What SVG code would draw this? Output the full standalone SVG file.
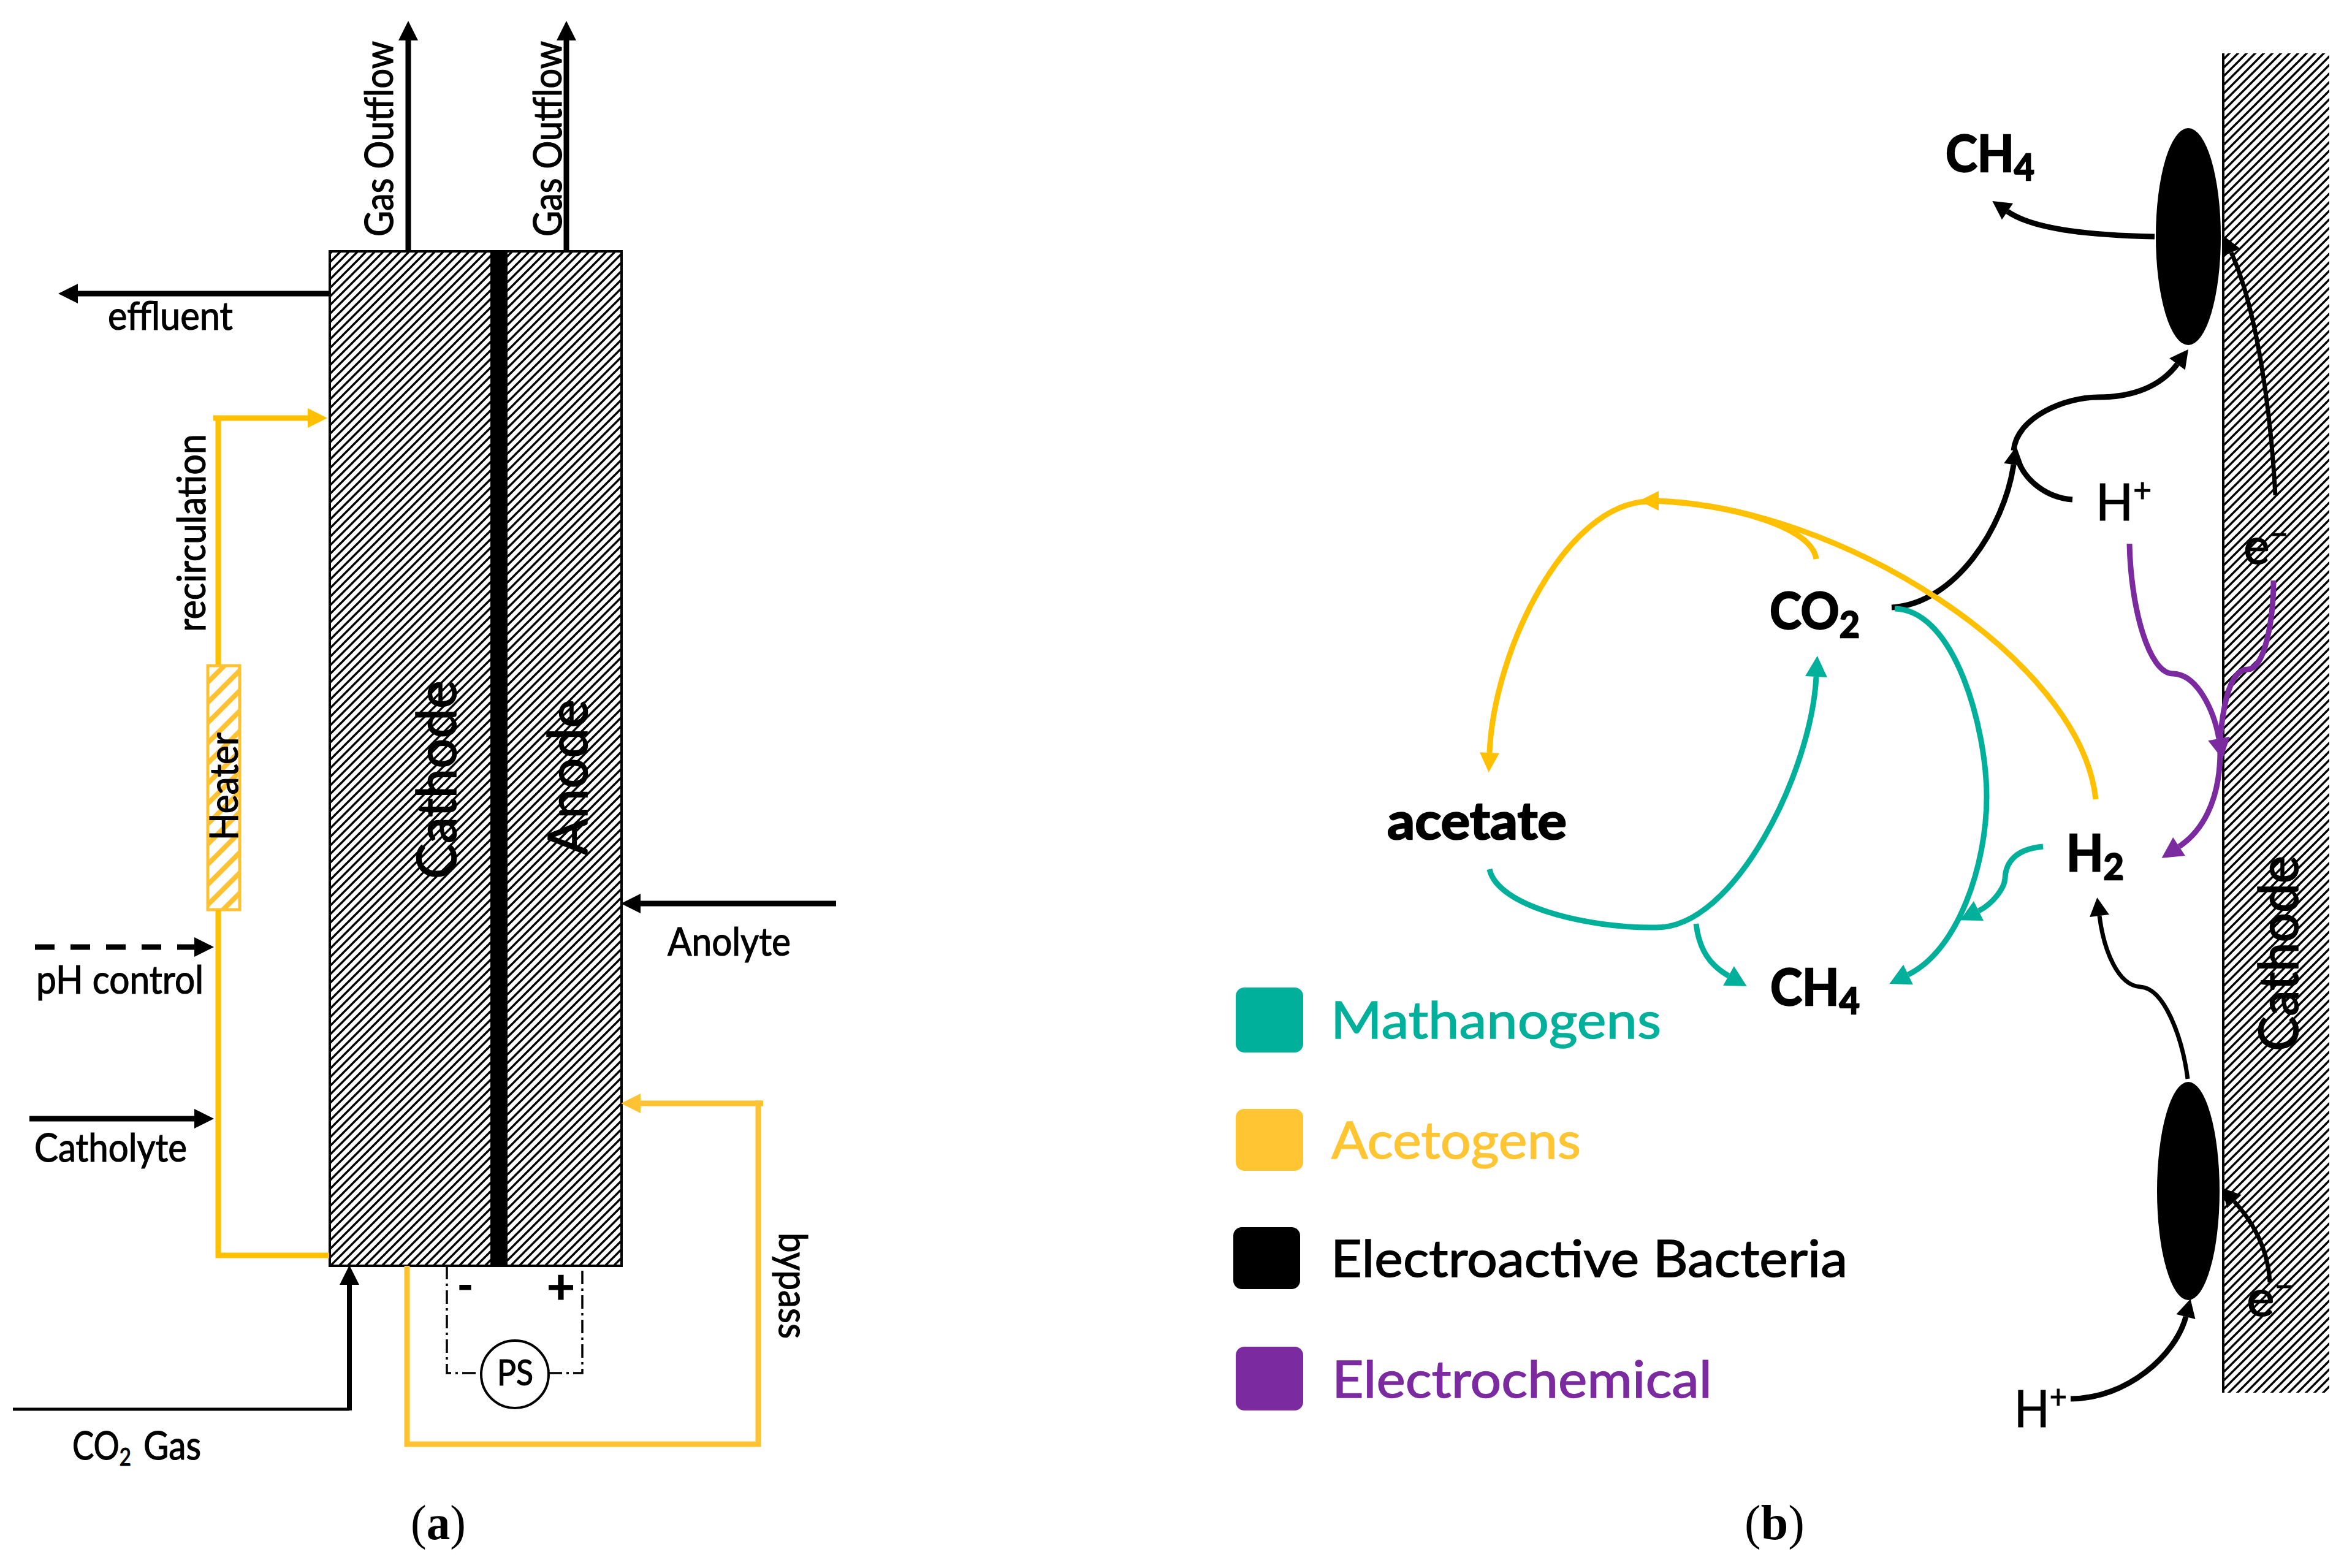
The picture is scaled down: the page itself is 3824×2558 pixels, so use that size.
<svg xmlns="http://www.w3.org/2000/svg" width="3824" height="2558" viewBox="0 0 3824 2558">
<style>
text{font-family:Lato,"Liberation Sans",sans-serif;fill:#000;stroke:#000;stroke-width:1.2}
.t{font-size:64px}
.b{font-weight:700}
.big{font-size:89px;stroke-width:1.6}
.leg{font-size:84px;stroke-width:1.4}
.chem{font-size:82px;font-weight:700;stroke-width:2.4}
.sub{font-size:60px}
.sup{font-size:54px}
text.cap{font-family:"Liberation Serif",serif;font-size:80px;stroke:none}
.line{fill:none;stroke-width:9;stroke-linejoin:miter}
.k{stroke:#000}.y{stroke:#FFC000}.yl{stroke:#FFC233}.g{stroke:#00B09B}.p{stroke:#7B2AA0}
.ka{marker-end:url(#mk)}.ya{marker-end:url(#my)}.yla{marker-end:url(#myl)}.ga{marker-end:url(#mg)}.pa{marker-end:url(#mp)}.ks{marker-end:url(#mks)}
.swatch{stroke:none}
</style>
<defs>
<pattern id="hatch" width="14" height="14" patternUnits="userSpaceOnUse">
<rect width="14" height="14" fill="#fff"/>
<path d="M-3.5 3.5L3.5-3.5M0 14L14 0M10.5 17.5L17.5 10.5" stroke="#000" stroke-width="3.4"/>
</pattern>
<pattern id="heat" width="33" height="33" patternUnits="userSpaceOnUse">
<rect width="33" height="33" fill="#fff"/>
<path d="M-8 8L8-8M0 33L33 0M25 41L41 25" stroke="#FFC233" stroke-width="8"/>
</pattern>
<marker id="mk" markerUnits="userSpaceOnUse" markerWidth="36" markerHeight="36" refX="0" refY="18" orient="auto" overflow="visible"><path d="M0 2L32 18L0 34Z" fill="#000"/></marker>
<marker id="mks" markerUnits="userSpaceOnUse" markerWidth="36" markerHeight="36" refX="0" refY="16" orient="auto" overflow="visible"><path d="M0 0L30 16L0 32Z" fill="#000"/></marker>
<marker id="my" markerUnits="userSpaceOnUse" markerWidth="36" markerHeight="36" refX="0" refY="18" orient="auto" overflow="visible"><path d="M0 2L32 18L0 34Z" fill="#FFC000"/></marker>
<marker id="myl" markerUnits="userSpaceOnUse" markerWidth="36" markerHeight="36" refX="0" refY="18" orient="auto" overflow="visible"><path d="M0 2L32 18L0 34Z" fill="#FFC233"/></marker>
<marker id="mg" markerUnits="userSpaceOnUse" markerWidth="36" markerHeight="36" refX="0" refY="18" orient="auto" overflow="visible"><path d="M0 0L34 18L0 36Z" fill="#00B09B"/></marker>
<marker id="mp" markerUnits="userSpaceOnUse" markerWidth="36" markerHeight="36" refX="0" refY="18" orient="auto" overflow="visible"><path d="M0 0L34 18L0 36Z" fill="#7B2AA0"/></marker>
</defs>
<rect width="3824" height="2558" fill="#fff"/>

<g id="cell-a">
<rect x="538" y="410" width="476" height="1655" fill="url(#hatch)" stroke="#000" stroke-width="4"/>
<rect x="800" y="410" width="28" height="1655" fill="#000"/>
<text class="big" transform="translate(744 1434) rotate(-90)" textLength="324" lengthAdjust="spacingAndGlyphs">Cathode</text>
<text class="big" transform="translate(958 1395) rotate(-90)" textLength="254" lengthAdjust="spacingAndGlyphs">Anode</text>
</g>
<g id="heater">
<rect x="339" y="1086" width="52" height="398" fill="url(#heat)" stroke="#FFC233" stroke-width="5"/>
<text class="t" transform="translate(388 1371) rotate(-90)" textLength="176" lengthAdjust="spacingAndGlyphs">Heater</text>
</g>
<g id="power-supply">
<circle cx="840" cy="2242" r="55" fill="#fff" stroke="#000" stroke-width="4"/>
<text class="t" x="811" y="2260" textLength="59" lengthAdjust="spacingAndGlyphs" style="font-size:58px">PS</text>
<text class="b" x="746" y="2122" style="font-size:70px" textLength="26" lengthAdjust="spacingAndGlyphs">-</text>
<text class="b" x="892" y="2127" style="font-size:78px" textLength="46" lengthAdjust="spacingAndGlyphs">+</text>
</g>
<g id="cathode-wall">
<rect x="3627" y="87" width="173" height="2185" fill="url(#hatch)"/>
<path d="M3627 87V2272" stroke="#000" stroke-width="4"/>
<text class="big" transform="translate(3749 1715) rotate(-90)" textLength="319" lengthAdjust="spacingAndGlyphs">Cathode</text>
</g>
<g id="bacteria-top"><ellipse cx="3570" cy="386" rx="53" ry="177" fill="#000"/></g>
<g id="bacteria-bottom"><ellipse cx="3570" cy="1943" rx="51" ry="178" fill="#000"/></g>

<g id="connectors">
<path class="line k ka" d="M666 410V66"/>
<path class="line k ka" d="M924 410V66"/>
<path class="line k ka" d="M536 479H127"/>
<path class="line y ya" d="M348 682H502"/>
<path class="line y" d="M356 682V1084"/>
<path class="line y" d="M356 1485V2048H537"/>
<path class="line k ka" stroke-dasharray="32 26" d="M57 1545H317"/>
<path class="line k ka" d="M48 1825H317"/>
<path class="line k ka" d="M1364 1474H1045"/>
<path class="line k" style="stroke-width:5" d="M21 2299H570"/>
<path class="line k ka" style="stroke-width:8" d="M570 2301V2096"/>
<path class="line yl" d="M664 2065V2356H1237V1800H1245"/>
<path class="line yl yla" d="M1245 1800H1045"/>
<path d="M729 2065V2240H785M895 2240H950V2065" fill="none" stroke="#000" stroke-width="3.5" stroke-dasharray="22 7 4 7"/>

<path class="line k ks" d="M3515 386C3420 384 3320 376 3275 345"/>
<path class="line k ks" style="stroke-width:7" d="M3712 808C3704 660 3680 500 3640 412"/>
<path class="line k ks" d="M3285 735C3290 680 3370 648 3422 648C3480 648 3525 630 3552 594"/>
<path class="line k ks" d="M3086 991C3190 985 3270 860 3285 758"/>
<path class="line k" d="M3381 815C3340 812 3302 785 3290 745"/>
<path class="line k ks" style="stroke-width:7" d="M3569 1760C3560 1690 3530 1612 3492 1610C3455 1608 3432 1550 3425 1494"/>
<path class="line k ks" style="stroke-width:7" d="M3703 2092C3700 2030 3668 1985 3645 1960"/>
<path class="line k ks" d="M3378 2282C3470 2282 3550 2210 3566 2148"/>

<path class="line y" d="M3419 1304C3395 1075 3000 825 2700 817"/>
<path class="line y" d="M2963 912C2955 860 2830 824 2700 817"/>
<path class="line y ya" d="M2710 818C2708 817 2706 817 2706 817"/>
<path class="line y ya" d="M2690 818C2555 820 2437 1060 2430 1228"/>
<path class="line g ga" d="M3091 993C3190 995 3241 1190 3241 1300C3241 1410 3195 1550 3113 1590"/>
<path class="line g ga" d="M2430 1418C2442 1478 2590 1515 2703 1513C2830 1513 2955 1260 2963 1104"/>
<path class="line g ga" d="M2767 1507C2772 1550 2790 1575 2820 1592"/>
<path class="line g ga" d="M3333 1381C3290 1385 3272 1405 3271 1433C3270 1450 3250 1475 3228 1486"/>
<path class="line p" d="M3709 947C3709 1010 3695 1092 3667 1092C3640 1092 3628 1140 3622 1205"/>
<path class="line p pa" d="M3474 887C3476 990 3505 1099 3545 1099C3585 1100 3612 1160 3620 1205"/>
<path class="line p pa" d="M3622 1225C3622 1310 3590 1358 3555 1381"/>
</g>

<g id="labels-a">
<text class="t" transform="translate(641 386) rotate(-90)" textLength="319" lengthAdjust="spacingAndGlyphs">Gas Outflow</text>
<text class="t" transform="translate(916 386) rotate(-90)" textLength="319" lengthAdjust="spacingAndGlyphs">Gas Outflow</text>
<text class="t" x="176" y="538" textLength="204" lengthAdjust="spacingAndGlyphs">effluent</text>
<text class="t" transform="translate(335 1031) rotate(-90)" textLength="323" lengthAdjust="spacingAndGlyphs">recirculation</text>
<text class="t" x="59" y="1621" textLength="273" lengthAdjust="spacingAndGlyphs">pH control</text>
<text class="t" x="56" y="1895" textLength="249" lengthAdjust="spacingAndGlyphs">Catholyte</text>
<text class="t" x="118" y="2381" textLength="96" lengthAdjust="spacingAndGlyphs">CO<tspan style="font-size:40px" dy="10">2</tspan></text>
<text class="t" x="234" y="2381" textLength="94" lengthAdjust="spacingAndGlyphs">Gas</text>
<text class="t" x="1089" y="1559" textLength="201" lengthAdjust="spacingAndGlyphs">Anolyte</text>
<text class="t" transform="translate(1271 2011) rotate(90)" textLength="173" lengthAdjust="spacingAndGlyphs">bypass</text>
<text class="cap" x="670" y="2511" textLength="90" lengthAdjust="spacingAndGlyphs">(<tspan font-weight="700">a</tspan>)</text>
</g>

<g id="species">
<text class="chem" x="3174" y="280" textLength="145" lengthAdjust="spacingAndGlyphs">CH<tspan class="sub" dy="14">4</tspan></text>
<text class="chem" x="2887" y="1026" textLength="147" lengthAdjust="spacingAndGlyphs">CO<tspan class="sub" dy="14">2</tspan></text>
<text class="chem" x="2888" y="1640" textLength="146" lengthAdjust="spacingAndGlyphs">CH<tspan class="sub" dy="14">4</tspan></text>
<text class="chem" x="3371" y="1421" textLength="94" lengthAdjust="spacingAndGlyphs">H<tspan class="sub" dy="14">2</tspan></text>
<text class="chem" x="2263" y="1369" textLength="293" lengthAdjust="spacingAndGlyphs" style="font-size:84px">acetate</text>
<text x="3419" y="849" style="font-size:84px" textLength="91" lengthAdjust="spacingAndGlyphs">H<tspan class="sup" dy="-30">+</tspan></text>
<text x="3660" y="920" style="font-size:84px" textLength="73" lengthAdjust="spacingAndGlyphs">e<tspan class="sup" dy="-30">−</tspan></text>
<text x="3665" y="2147" style="font-size:84px" textLength="78" lengthAdjust="spacingAndGlyphs">e<tspan class="sup" dy="-30">−</tspan></text>
<text x="3286" y="2328" style="font-size:84px" textLength="86" lengthAdjust="spacingAndGlyphs">H<tspan class="sup" dy="-30">+</tspan></text>
</g>

<g id="legend">
<rect class="swatch" x="2016" y="1611" width="110" height="106" rx="14" fill="#00B09B"/>
<rect class="swatch" x="2016" y="1809" width="110" height="101" rx="14" fill="#FFC533"/>
<rect class="swatch" x="2012" y="2002" width="109" height="101" rx="14" fill="#000"/>
<rect class="swatch" x="2016" y="2197" width="110" height="104" rx="14" fill="#7B2AA0"/>
<text class="leg" x="2171" y="1694" textLength="539" lengthAdjust="spacingAndGlyphs" style="fill:#00B09B;stroke:#00B09B">Mathanogens</text>
<text class="leg" x="2172" y="1890" textLength="407" lengthAdjust="spacingAndGlyphs" style="fill:#FFC533;stroke:#FFC533">Acetogens</text>
<text class="leg" x="2171" y="2083" textLength="843" lengthAdjust="spacingAndGlyphs">Electroactive Bacteria</text>
<text class="leg" x="2173" y="2280" textLength="620" lengthAdjust="spacingAndGlyphs" style="fill:#7B2AA0;stroke:#7B2AA0">Electrochemical</text>
<text class="cap" x="2846" y="2511">(<tspan font-weight="700">b</tspan>)</text>
</g>
</svg>
